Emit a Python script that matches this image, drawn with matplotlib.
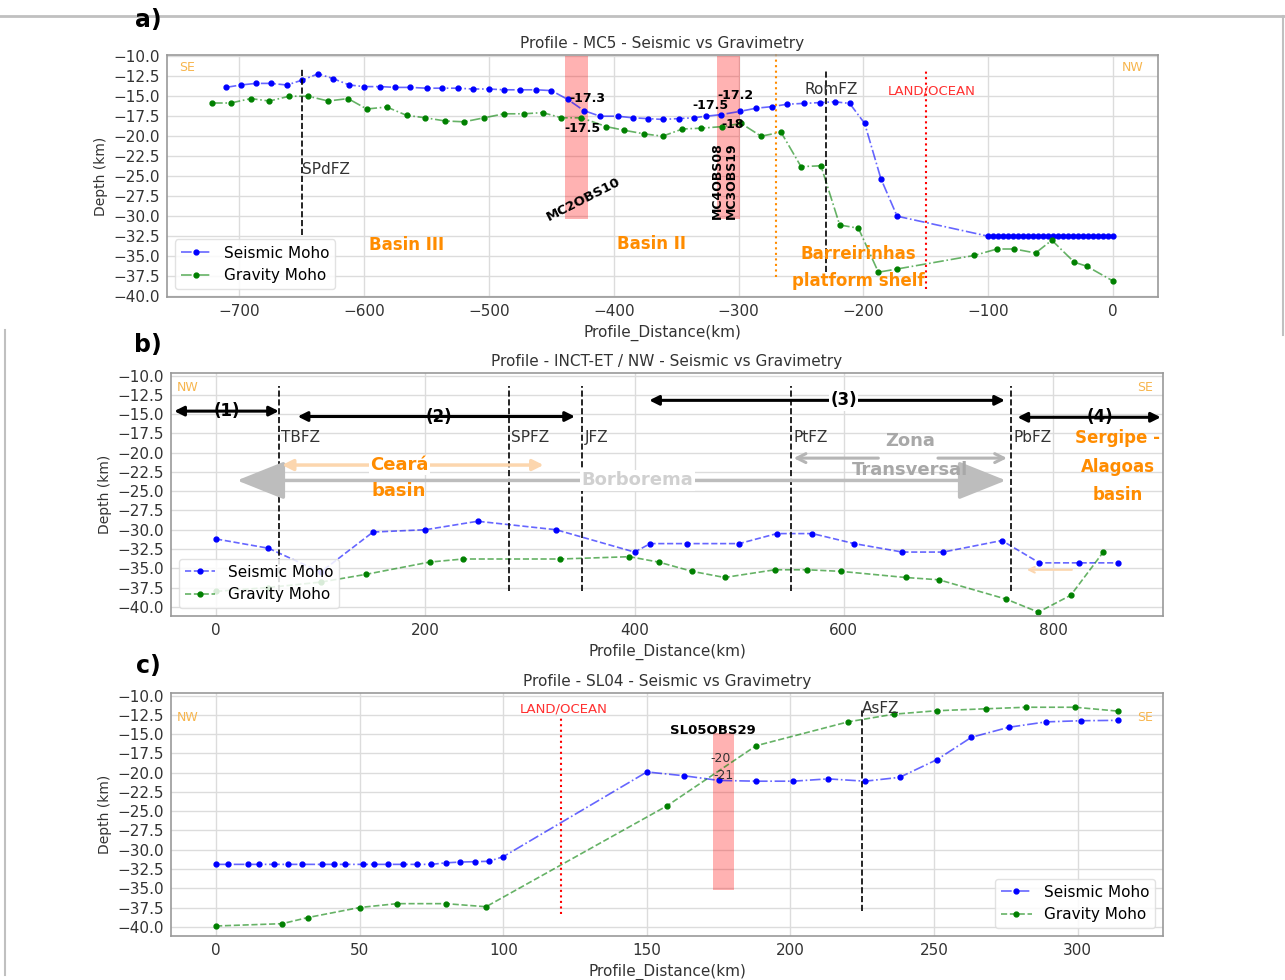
import matplotlib.pyplot as plt
from matplotlib.lines import Line2D

plt.rcParams['font.family'] = ['DejaVu Sans']

# ---------------- data ----------------
depth_ticks = [-10.0, -12.5, -15.0, -17.5, -20.0, -22.5, -25.0, -27.5,
               -30.0, -32.5, -35.0, -37.5, -40.0]

# a) MC5
mc5_seis_x = [-711, -699, -687, -675, -662, -650, -637, -625, -612, -600, -587, -575,
              -563, -550, -538, -525, -513, -500, -488, -475, -462, -450, -437, -424,
              -411, -397, -385, -373, -361, -348, -336, -326, -314, -299, -286, -273,
              -261, -248, -235, -223, -211, -199, -186, -173,
              -100, -96, -92, -88, -84, -80, -76, -72, -68, -64, -60, -56, -52,
              -48, -44, -40, -36, -32, -28, -24, -20, -16, -12, -8, -4, 0]
mc5_seis_y = [-13.9, -13.6, -13.4, -13.4, -13.6, -13.0, -12.2, -12.8, -13.6, -13.8, -13.8, -13.9,
              -13.9, -14.0, -14.0, -14.0, -14.1, -14.1, -14.2, -14.2, -14.2, -14.3, -15.4, -16.8,
              -17.5, -17.5, -17.7, -17.8, -17.9, -17.8, -17.7, -17.5, -17.3, -16.9, -16.5, -16.3,
              -16.0, -15.9, -15.8, -15.7, -15.9, -18.4, -25.3, -30.0,
              -32.5, -32.5, -32.5, -32.5, -32.5, -32.5, -32.5, -32.5, -32.5, -32.5, -32.5, -32.5, -32.5,
              -32.5, -32.5, -32.5, -32.5, -32.5, -32.5, -32.5, -32.5, -32.5, -32.5, -32.5, -32.5, -32.5]
mc5_grav_x = [-722, -707, -691, -676, -660, -645, -629, -613, -598, -582, -566, -551,
              -535, -520, -504, -488, -472, -457, -442, -426, -406, -392, -376, -361,
              -345, -330, -313, -298, -282, -266, -250, -234, -219, -204, -188, -173,
              -111, -93, -79, -62, -49, -31, -21, 0]
mc5_grav_y = [-15.85, -15.85, -15.3, -15.6, -15.0, -15.0, -15.6, -15.3, -16.6, -16.35, -17.4, -17.7,
              -18.1, -18.2, -17.7, -17.2, -17.2, -17.05, -17.7, -17.7, -18.8, -19.25, -19.7, -20.0,
              -19.1, -19.0, -18.8, -18.4, -20.0, -19.5, -23.8, -23.7, -31.1, -31.5, -37.0, -36.6,
              -34.9, -34.1, -34.1, -34.6, -33.0, -35.75, -36.25, -38.1]
mc5_faults = ['SPdFZ', 'RomFZ']
mc5_fault_x = [-650, -230]
mc5_obs_x0 = [-439, -317]
mc5_obs_x1 = [-421, -299]
mc5_values = ['-17.3', '-17.5', '-17.5', '-17.2', '-18']
mc5_value_x = [-436, -440, -337, -317, -314]
mc5_value_y = [-15.3, -19.1, -16.2, -14.9, -18.6]

# b) INCT-ET / NW
inct_seis_x = [0, 50, 100, 150, 200, 250, 325, 400, 415, 450, 500, 536, 570, 610,
               656, 695, 751, 787, 825, 862]
inct_seis_y = [-31.2, -32.4, -35.5, -30.3, -30.0, -28.9, -30.0, -32.9, -31.8, -31.8,
               -31.8, -30.5, -30.5, -31.8, -32.9, -32.9, -31.4, -34.3, -34.3, -34.3]
inct_grav_x = [0, 50, 100, 143, 204, 236, 329, 395, 423, 455, 486, 534, 565, 597,
               659, 691, 755, 786, 817, 848]
inct_grav_y = [-38.0, -37.5, -36.8, -35.8, -34.2, -33.8, -33.8, -33.5, -34.2, -35.4,
               -36.2, -35.2, -35.2, -35.4, -36.2, -36.5, -39.0, -40.7, -38.5, -32.9]
inct_faults = ['TBFZ', 'SPFZ', 'JFZ', 'PtFZ', 'PbFZ']
inct_fault_x = [60, 280, 350, 550, 760]
zone_labels = ['(1)', '(2)', '(3)', '(4)']
zone_start = [-40, 78, 414, 766]
zone_end = [60, 343, 754, 903]
zone_y = [-14.6, -15.3, -13.2, -15.4]
zone_text_x = [10, 213, 600, 845]

# c) SL04
sl04_seis_x = [0, 4, 11, 15, 20, 25, 30, 37, 41, 45, 51, 55, 60, 65, 70, 75, 80, 85, 90,
               95, 100, 150, 163, 175, 188, 201, 213, 226, 238, 251, 263, 276, 289, 301, 314]
sl04_seis_y = [-31.9, -31.9, -31.9, -31.9, -31.9, -31.9, -31.9, -31.9, -31.9, -31.9,
               -31.9, -31.9, -31.9, -31.9, -31.9, -31.9, -31.7, -31.6, -31.55, -31.5,
               -30.9, -19.9, -20.4, -21.0, -21.1, -21.1, -20.8, -21.1, -20.6, -18.3,
               -15.4, -14.1, -13.4, -13.25, -13.2]
sl04_grav_x = [0, 23, 32, 50, 63, 80, 94, 157, 188, 220, 236, 251, 268, 282, 299, 314]
sl04_grav_y = [-39.9, -39.6, -38.8, -37.5, -37.0, -37.0, -37.4, -24.3, -16.5, -13.4,
               -12.4, -11.95, -11.7, -11.5, -11.5, -12.0]

# ---------------- figure ----------------
fig = plt.figure(figsize=(12.85, 9.8), dpi=100)
W, H = 1285, 980


def box(l, r, t, b):
    return [l / W, 1 - b / H, (r - l) / W, (b - t) / H]


ax_a = fig.add_axes(box(167, 1158, 55, 297))
ax_b = fig.add_axes(box(171, 1163, 373, 616))
ax_c = fig.add_axes(box(171, 1163, 693, 936))

LT = '#f7b54d'      # light orange NW/SE
OR = '#ff8c00'      # dark orange labels
FZ = '#333333'


def moho(ax, sx, sy, gx, gy, ls_s, ls_g, loc):
    ax.plot(sx, sy, ls=ls_s, color=(0, 0, 1, 0.6), lw=1.2, marker='o', ms=3.5,
            mfc='blue', mec='blue', label='Seismic Moho')
    ax.plot(gx, gy, ls=ls_g, color=(0, 0.5, 0, 0.6), lw=1.2, marker='o', ms=3.5,
            mfc='green', mec='green', label='Gravity Moho')
    ax.legend(loc=loc, fontsize=11, framealpha=0.85, edgecolor='#dddddd')


def style(ax, title, ylabel):
    ax.set_yticks(depth_ticks)
    ax.grid(True, color='#dcdcdc', lw=1)
    ax.set_axisbelow(True)
    for s in ax.spines.values():
        s.set_color('#999999')
        s.set_linewidth(1.2)
    ax.tick_params(labelsize=11, colors='#333333', length=0, pad=5)
    ax.set_title(title, fontsize=11, color='#333333', pad=5)
    ax.set_xlabel('Profile_Distance(km)', fontsize=11, color='#333333', labelpad=4)
    ax.set_ylabel(ylabel, fontsize=10, color='#333333')


# ---- a) ----
moho(ax_a, mc5_seis_x, mc5_seis_y, mc5_grav_x, mc5_grav_y, '-.', '-.', 'lower left')
style(ax_a, 'Profile - MC5 - Seismic vs Gravimetry', 'Depth (km)')
ax_a.set_ylim(-40.1, -9.85)
for x0, x1 in zip(mc5_obs_x0, mc5_obs_x1):
    ax_a.fill_betweenx([-30.3, -10], x0, x1, color='red', alpha=0.3, lw=0)
for t, x, y in zip(mc5_values, mc5_value_x, mc5_value_y):
    ax_a.text(x, y, t, fontsize=9, fontweight='bold', ha='left', va='center')
ax_a.text(-424, -27.9, 'MC2OBS10', rotation=27, fontsize=9.5, fontweight='bold',
          ha='center', va='center')
ax_a.text(-317, -30.3, 'MC4OBS08', rotation=90, fontsize=9, fontweight='bold',
          ha='center', va='bottom')
ax_a.text(-306, -30.3, 'MC3OBS19', rotation=90, fontsize=9, fontweight='bold',
          ha='center', va='bottom')
ax_a.vlines(mc5_fault_x[0], -32.3, -11.6, colors='black', linestyles='--', lw=1.2)
ax_a.vlines(mc5_fault_x[1], -37.0, -11.6, colors='black', linestyles='--', lw=1.2)
ax_a.text(mc5_fault_x[0], -24.2, mc5_faults[0], fontsize=11, color=FZ, ha='left', va='center')
ax_a.text(mc5_fault_x[1] + 4, -14.2, mc5_faults[1], fontsize=11, color=FZ, ha='center', va='center')
ax_a.vlines(-270, -37.6, -9.3, colors='darkorange', linestyles=':', lw=1.5, clip_on=False)
ax_a.vlines(-150, -39.1, -11.8, colors='red', linestyles=':', lw=1.5)
ax_a.text(-145, -14.4, 'LAND/OCEAN', fontsize=9.5, color='#ff3030', ha='center', va='center')
ax_a.text(-566, -33.6, 'Basin III', fontsize=12, fontweight='bold', color=OR, ha='center', va='center')
ax_a.text(-370, -33.5, 'Basin II', fontsize=12, fontweight='bold', color=OR, ha='center', va='center')
ax_a.text(-204, -36.4, 'Barreirinhas\nplatform shelf', fontsize=12, fontweight='bold',
          color=OR, ha='center', va='center', linespacing=1.6)
ax_a.text(0.012, 0.95, 'SE', transform=ax_a.transAxes, fontsize=9, color=LT, va='center')
ax_a.text(0.985, 0.95, 'NW', transform=ax_a.transAxes, fontsize=9, color=LT, va='center', ha='right')

# ---- b) ----
moho(ax_b, inct_seis_x, inct_seis_y, inct_grav_x, inct_grav_y, '--', '--', 'lower left')
style(ax_b, 'Profile - INCT-ET / NW - Seismic vs Gravimetry', 'Depth (km)')
ax_b.set_ylim(-41.2, -9.65)
for name, x in zip(inct_faults, inct_fault_x):
    ax_b.vlines(x, -38.0, -11.4, colors='black', linestyles='--', lw=1.2, zorder=2.5)
    ax_b.text(x + 2, -18.0, name, fontsize=11, color=FZ, ha='left', va='center')
for lab, x0, x1, y, tx in zip(zone_labels, zone_start, zone_end, zone_y, zone_text_x):
    ax_b.annotate('', xy=(x0, y), xytext=(x1, y),
                  arrowprops=dict(arrowstyle='<|-|>', color='black', lw=2.2,
                                  mutation_scale=14, shrinkA=0, shrinkB=0))
    ax_b.text(tx, y, lab, fontsize=12, fontweight='bold', ha='center', va='center',
              bbox=dict(facecolor='white', edgecolor='none', pad=1) if lab == '(3)' else None)
# Borborema
ax_b.annotate('', xy=(20, -23.6), xytext=(755, -23.6),
              arrowprops=dict(arrowstyle='<|-|>,head_length=1.5,head_width=0.6', color='#bdbdbd',
                              lw=2.5, mutation_scale=20, shrinkA=0, shrinkB=0))
ax_b.text(403, -23.6, 'Borborema', fontsize=13, fontweight='bold', color='#d0d0d0',
          ha='center', va='center', bbox=dict(facecolor='white', edgecolor='none', pad=1))
# Ceara basin
ax_b.annotate('', xy=(63, -21.6), xytext=(313, -21.6),
              arrowprops=dict(arrowstyle='<|-|>', color='#fcd6ae', lw=2.5,
                              mutation_scale=16, shrinkA=0, shrinkB=0))
ax_b.text(175, -21.6, 'Cear\u00e1', fontsize=13, fontweight='bold', color=OR, ha='center',
          va='center', bbox=dict(facecolor='white', edgecolor='none', pad=1))
ax_b.text(175, -25.0, 'basin', fontsize=13, fontweight='bold', color=OR, ha='center', va='center')
# Zona Transversal
ax_b.annotate('', xy=(552, -20.7), xytext=(633, -20.7),
              arrowprops=dict(arrowstyle='->', color='#b5b5b5', lw=2.2, mutation_scale=16,
                              shrinkA=0, shrinkB=0))
ax_b.annotate('', xy=(756, -20.7), xytext=(690, -20.7),
              arrowprops=dict(arrowstyle='->', color='#b5b5b5', lw=2.2, mutation_scale=16,
                              shrinkA=0, shrinkB=0))
ax_b.text(663, -18.5, 'Zona', fontsize=13, fontweight='bold', color='#a8a8a8', ha='center', va='center')
ax_b.text(663, -22.2, 'Transversal', fontsize=13, fontweight='bold', color='#a8a8a8',
          ha='center', va='center')
ax_b.text(862, -21.8, 'Sergipe -\nAlagoas\nbasin', fontsize=12, fontweight='bold', color=OR,
          ha='center', va='center', linespacing=1.75)
ax_b.annotate('', xy=(775, -35.2), xytext=(818, -35.2),
              arrowprops=dict(arrowstyle='->', color='#fcd6ae', lw=1.5, shrinkA=0, shrinkB=0))
ax_b.text(0.006, 0.94, 'NW', transform=ax_b.transAxes, fontsize=9, color=LT, va='center')
ax_b.text(0.99, 0.94, 'SE', transform=ax_b.transAxes, fontsize=9, color=LT, va='center', ha='right')

# ---- c) ----
moho(ax_c, sl04_seis_x, sl04_seis_y, sl04_grav_x, sl04_grav_y, '-.', '--', 'lower right')
style(ax_c, 'Profile - SL04 - Seismic vs Gravimetry', 'Depth (km)')
ax_c.set_ylim(-41.2, -9.65)
ax_c.fill_betweenx([-35.2, -14.9], 173, 180.5, color='red', alpha=0.3, lw=0)
ax_c.text(173, -14.5, 'SL05OBS29', fontsize=9.5, fontweight='bold', ha='center', va='center')
ax_c.text(172, -18.2, '-20', fontsize=9, color='#333333', ha='left', va='center')
ax_c.text(173, -20.4, '-21', fontsize=9, color='#333333', ha='left', va='center')
ax_c.vlines(120, -38.3, -12.7, colors='red', linestyles=':', lw=1.5)
ax_c.text(121, -11.7, 'LAND/OCEAN', fontsize=9.5, color='#ff3030', ha='center', va='center')
ax_c.vlines(225, -38.0, -11.6, colors='black', linestyles='--', lw=1.2)
ax_c.text(225, -11.7, 'AsFZ', fontsize=11, color=FZ, ha='left', va='center')
ax_c.text(0.006, 0.9, 'NW', transform=ax_c.transAxes, fontsize=9, color=LT, va='center')
ax_c.text(0.99, 0.9, 'SE', transform=ax_c.transAxes, fontsize=9, color=LT, va='center', ha='right')

# panel letters and page edges
for lab, y in zip(['a)', 'b)', 'c)'], [20, 345, 666]):
    fig.text(148 / W, 1 - y / H, lab, fontsize=17, fontweight='bold', ha='center', va='center')
fig.add_artist(Line2D([0, 1], [1 - 16 / H, 1 - 16 / H], color='#c0c0c0', lw=2, transform=fig.transFigure))
fig.add_artist(Line2D([1283 / W, 1283 / W], [1 - 16 / H, 1 - 335 / H], color='#c0c0c0', lw=1.5,
                      transform=fig.transFigure))
fig.add_artist(Line2D([5 / W, 5 / W], [1 - 330 / H, 0.005], color='#c0c0c0', lw=1.5,
                      transform=fig.transFigure))

fig.savefig('out.png', dpi=100)
